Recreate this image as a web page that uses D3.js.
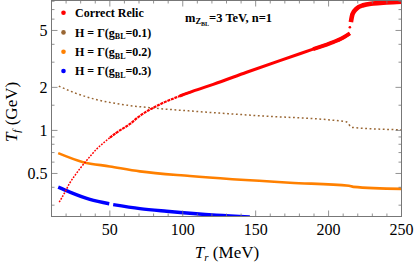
<!DOCTYPE html>
<html>
<head>
<meta charset="utf-8">
<script src="https://cdn.jsdelivr.net/npm/d3@7"></script>
<style>
  body { margin: 0; background: #fff; }
  svg { display: block; }
</style>
</head>
<body>
<svg id="chart" width="415" height="264"></svg>
<script>
// ---- data ----
const redT  = [15.3, 19.2, 22.6, 26.1, 29.5, 36.3, 40.9, 45.5, 50, 54.6, 63.8, 69.5, 85.5, 98, 107, 120.9, 143.8, 166.6, 189.4, 200.9, 209.8, 214.6];
const redTf = [0.315, 0.37, 0.43, 0.485, 0.54, 0.655, 0.74, 0.815, 0.89, 0.965, 1.11, 1.24, 1.54, 1.74, 1.88, 2.1, 2.55, 3.08, 3.7, 4.06, 4.44, 4.77];
const redUpT  = [215.3, 216.4, 219.2, 223.7, 230.6, 239.8, 250];
const redUpTf = [5.72, 6.5, 7.1, 7.5, 7.72, 7.85, 7.95];
const redLoneT = [214.6], redLoneTf = [5.27];

const brownT  = [15, 26, 40, 58, 81, 104, 150, 212, 216, 250];
const brownTf = [2.04, 1.83, 1.65, 1.52, 1.43, 1.37, 1.27, 1.15, 1.05, 1.01];

const orangeT  = [14.6, 31.7, 50, 70.6, 104.9, 173.5, 214, 217, 250];
const orangeTf = [0.694, 0.6, 0.56, 0.517, 0.48, 0.431, 0.41, 0.403, 0.39];

const blueT  = [14.6, 22.6, 36.3, 49.6, 52.3, 70.6, 88.9, 123, 146];
const blueTf = [0.401, 0.37, 0.329, 0.307, 0.303, 0.284, 0.272, 0.255, 0.248];

const xMajor = [50, 100, 150, 200, 250];
const xMinor = d3.range(10, 251, 10);
const yMajor = [0.5, 1, 2, 5];
const yMinor = [0.3, 0.4, 0.6, 0.7, 0.8, 0.9, 1.5, 3, 4, 6, 7, 8];

const legendLabels = ["Correct Relic", "0.1", "0.2", "0.3"];
const legendColors = ["#ff0000", "#996633", "#ff8000", "#0000ff"];

// ---- layout ----
const svg = d3.select("#chart");
const pLeft = 51.5, pRight = 401.5, pTop = 0.5, pBottom = 216.5;
const x = d3.scaleLinear().domain([10, 250]).range([pLeft, pRight]);
const y = d3.scaleLog().domain([0.25, 8.1]).range([pBottom, pTop]);
const frameColor = "#777";
const serif = "'Liberation Serif', 'Times New Roman', serif";

const zip = (a, b) => a.map((v, i) => [v, b[i]]);
const line = d3.line().x(d => x(d[0])).y(d => y(d[1])).curve(d3.curveMonotoneX);

svg.append("clipPath").attr("id", "clip")
  .append("rect").attr("x", pLeft).attr("y", pTop)
  .attr("width", pRight - pLeft).attr("height", pBottom - pTop);

const g = svg.append("g").attr("clip-path", "url(#clip)");

// brown: sparse scatter look
g.append("path")
  .attr("d", line(zip(brownT, brownTf)))
  .attr("fill", "none").attr("stroke", "#996633")
  .attr("stroke-width", 1.5).attr("stroke-dasharray", "1.8 2.6");

// orange
g.append("path")
  .attr("d", line(zip(orangeT, orangeTf)))
  .attr("fill", "none").attr("stroke", "#ff8000").attr("stroke-width", 2.6);

// blue with small gap near 50 MeV
const blue = zip(blueT, blueTf);
[blue.slice(0, 4), blue.slice(4)].forEach(seg => {
  g.append("path")
    .attr("d", line(seg))
    .attr("fill", "none").attr("stroke", "#0000ff").attr("stroke-width", 3.4);
});

// red lower branch, getting denser with T
const red = zip(redT, redTf);
g.append("path")
  .attr("d", line(red.filter(d => d[0] <= 54.6)))
  .attr("fill", "none").attr("stroke", "#ff0000")
  .attr("stroke-width", 1.5).attr("stroke-dasharray", "1.8 1.3");
g.append("path")
  .attr("d", line(red.filter(d => d[0] >= 50 && d[0] <= 107)))
  .attr("fill", "none").attr("stroke", "#ff0000")
  .attr("stroke-width", 2.2).attr("stroke-dasharray", "3 0.8");
g.append("path")
  .attr("d", line(red.filter(d => d[0] >= 98)))
  .attr("fill", "none").attr("stroke", "#ff0000").attr("stroke-width", 3);
g.append("path")
  .attr("d", line(red.filter(d => d[0] >= 189)))
  .attr("fill", "none").attr("stroke", "#ff0000").attr("stroke-width", 4);

// red lone point and upper branch
g.selectAll(".lone").data(zip(redLoneT, redLoneTf)).enter()
  .append("circle").attr("class", "lone")
  .attr("cx", d => x(d[0])).attr("cy", d => y(d[1])).attr("r", 1.3)
  .attr("fill", "#ff0000");
g.append("path")
  .attr("d", line(zip(redUpT, redUpTf)))
  .attr("fill", "none").attr("stroke", "#ff0000").attr("stroke-width", 4.6);

// ---- frame and ticks ----
svg.append("rect")
  .attr("x", pLeft).attr("y", pTop)
  .attr("width", pRight - pLeft).attr("height", pBottom - pTop)
  .attr("fill", "none").attr("stroke", frameColor).attr("stroke-width", 1);

const ticks = svg.append("g").attr("stroke", frameColor).attr("stroke-width", 0.8);
xMinor.forEach(v => {
  const len = xMajor.includes(v) ? 6 : 3;
  ticks.append("line").attr("x1", x(v)).attr("x2", x(v)).attr("y1", pBottom).attr("y2", pBottom - len);
  ticks.append("line").attr("x1", x(v)).attr("x2", x(v)).attr("y1", pTop).attr("y2", pTop + len);
});
yMajor.concat(yMinor).forEach(v => {
  const len = yMajor.includes(v) ? 6 : 3;
  ticks.append("line").attr("y1", y(v)).attr("y2", y(v)).attr("x1", pLeft).attr("x2", pLeft + len);
  ticks.append("line").attr("y1", y(v)).attr("y2", y(v)).attr("x1", pRight).attr("x2", pRight - len);
});

svg.selectAll(".xl").data(xMajor).enter().append("text")
  .attr("class", "xl")
  .attr("x", d => x(d)).attr("y", 234.5)
  .attr("text-anchor", "middle")
  .attr("font-family", serif).attr("font-size", 16)
  .text(d => d);

svg.selectAll(".yl").data(yMajor).enter().append("text")
  .attr("class", "yl")
  .attr("x", 47.5).attr("y", d => y(d)).attr("dy", "0.35em")
  .attr("text-anchor", "end")
  .attr("font-family", serif).attr("font-size", 16)
  .text(d => d);

// axis titles
const xt = svg.append("text")
  .attr("x", 227).attr("y", 257.5).attr("text-anchor", "middle")
  .attr("font-family", serif).attr("font-size", 17);
xt.append("tspan").attr("font-style", "italic").text("T");
xt.append("tspan").attr("font-style", "italic").attr("font-size", 11).attr("dy", 3).text("r");
xt.append("tspan").attr("dy", -3).text(" (MeV)");

const yt = svg.append("text")
  .attr("transform", "translate(17,112) rotate(-90)")
  .attr("text-anchor", "middle")
  .attr("font-family", serif).attr("font-size", 17);
yt.append("tspan").attr("font-style", "italic").text("T");
yt.append("tspan").attr("font-style", "italic").attr("font-size", 11).attr("dy", 3).text("f");
yt.append("tspan").attr("dy", -3).text(" (GeV)");

// ---- legend ----
const legY = [12.7, 32.4, 51.8, 71];
legendLabels.forEach((lab, i) => {
  svg.append("circle").attr("cx", 63.5).attr("cy", legY[i]).attr("r", 2.3)
    .attr("fill", legendColors[i]);
  const t = svg.append("text")
    .attr("x", 75).attr("y", legY[i] + 4.2)
    .attr("font-family", serif).attr("font-weight", "bold").attr("font-size", 12);
  if (i === 0) {
    t.text(lab);
  } else {
    t.append("tspan").text("H = \u0393(g");
    t.append("tspan").attr("font-size", 8).attr("dy", 2.5).text("BL");
    t.append("tspan").attr("dy", -2.5).text("=" + lab + ")");
  }
});

// annotation
const ann = svg.append("text")
  .attr("x", 185).attr("y", 21.5)
  .attr("font-family", serif).attr("font-weight", "bold").attr("font-size", 12.5);
ann.append("tspan").text("m");
ann.append("tspan").attr("font-size", 8.5).attr("dy", 2.5).text("Z");
ann.append("tspan").attr("font-size", 6).attr("dy", 1.5).text("BL");
ann.append("tspan").attr("dy", -4).text("=3 TeV, n=1");
</script>
</body>
</html>
